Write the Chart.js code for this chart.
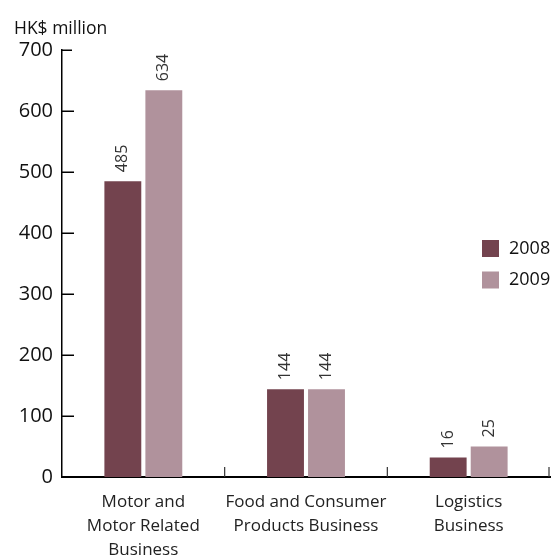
<!DOCTYPE html>
<html>
<head>
<meta charset="utf-8">
<script src="https://cdn.jsdelivr.net/npm/chart.js@4"></script>
<style>
  html, body { margin: 0; padding: 0; background: #fff; }
  #wrap { width: 552px; height: 556px; position: relative; }
</style>
</head>
<body>
<div id="wrap"><canvas id="segmentChart"></canvas></div>
<script>
const categories = [
    ['Motor and', 'Motor Related', 'Business'],
    ['Food and Consumer', 'Products Business'],
    ['Logistics', 'Business']
];
const seriesNames = ['2008', '2009'];
// bar heights as drawn against the axis
const values2008 = [485, 144, 32];
const values2009 = [634, 144, 50];
// numbers printed above the bars
const printed2008 = ['485', '144', '16'];
const printed2009 = ['634', '144', '25'];
const yTicks = [0, 100, 200, 300, 400, 500, 600, 700];

const FONT = '"Open Sans", "DejaVu Sans", sans-serif';
const colors = ['#73434e', '#b0929c'];

const decorations = {
    id: 'decorations',
    afterDraw(chart) {
        const { ctx, chartArea, scales: { x, y } } = chart;
        ctx.save();
        ctx.strokeStyle = '#000';
        ctx.lineWidth = 1.5;

        // inward ticks on y axis
        yTicks.forEach(v => {
            if (v === 0) return;
            const py = Math.round(y.getPixelForValue(v)) + 0.25;
            ctx.beginPath();
            ctx.moveTo(chartArea.left, py);
            ctx.lineTo(chartArea.left + (v === 700 ? 10 : 12), py);
            ctx.stroke();
        });

        // category separators on x axis
        ctx.lineWidth = 1.2;
        ctx.strokeStyle = '#333';
        const n = chart.data.labels.length;
        for (let i = 1; i <= n; i++) {
            const px = i < n ? (x.getPixelForValue(i - 1) + x.getPixelForValue(i)) / 2 : chartArea.right - 1;
            ctx.beginPath();
            ctx.moveTo(px, chartArea.bottom);
            ctx.lineTo(px, chartArea.bottom - 10);
            ctx.stroke();
        }

        // rotated value labels
        ctx.fillStyle = '#333';
        ctx.font = '16px ' + FONT;
        chart.data.datasets.forEach((ds, di) => {
            chart.getDatasetMeta(di).data.forEach((bar, i) => {
                ctx.save();
                ctx.translate(bar.x, bar.y - 9);
                ctx.rotate(-Math.PI / 2);
                ctx.textAlign = 'left';
                ctx.textBaseline = 'middle';
                ctx.fillText(ds.printed[i], 0, 0);
                ctx.restore();
            });
        });

        // legend inside the plot
        const mid = (chartArea.top + chartArea.bottom) / 2;
        ctx.font = '18px ' + FONT;
        ctx.textAlign = 'left';
        ctx.textBaseline = 'middle';
        chart.data.datasets.forEach((ds, di) => {
            const cy = mid - 15 + di * 31.5;
            ctx.fillStyle = ds.backgroundColor;
            ctx.fillRect(chartArea.right - 68, cy - 8.5, 17, 17);
            ctx.fillStyle = '#111';
            ctx.fillText(ds.label, chartArea.right - 41, cy);
        });
        ctx.restore();
    }
};

new Chart(document.getElementById('segmentChart'), {
    type: 'bar',
    data: {
        labels: categories,
        datasets: [
            { label: seriesNames[0], data: values2008, printed: printed2008, backgroundColor: colors[0] },
            { label: seriesNames[1], data: values2009, printed: printed2009, backgroundColor: colors[1] }
        ]
    },
    options: {
        responsive: true,
        maintainAspectRatio: false,
        animation: false,
        layout: { padding: { left: 14, right: 2, top: 0, bottom: 0 } },
        datasets: { bar: { categoryPercentage: 0.504, barPercentage: 0.9, borderWidth: 0 } },
        plugins: {
            legend: { display: false },
            tooltip: { enabled: false },
            title: {
                display: true,
                text: 'HK$ million',
                align: 'start',
                color: '#111',
                font: { family: FONT, size: 17.5, weight: 'normal' },
                padding: { top: 19, bottom: 10 }
            }
        },
        scales: {
            x: {
                grid: { display: false, drawTicks: false },
                border: { display: true, color: '#000', width: 2 },
                ticks: {
                    color: '#222',
                    padding: 13.5,
                    maxRotation: 0,
                    autoSkip: false,
                    font: { family: FONT, size: 17, lineHeight: 1.41 }
                },
                afterFit(scale) { scale.height = 79; }
            },
            y: {
                min: 0,
                max: 700,
                afterBuildTicks(scale) { scale.ticks = yTicks.map(v => ({ value: v })); },
                grid: { display: false, drawTicks: false },
                border: { display: true, color: '#000', width: 1.5 },
                ticks: {
                    color: '#111',
                    padding: 9,
                    font: { family: FONT, size: 20 }
                },
                afterFit(scale) { scale.width = 48; }
            }
        }
    },
    plugins: [decorations]
});
</script>
</body>
</html>
